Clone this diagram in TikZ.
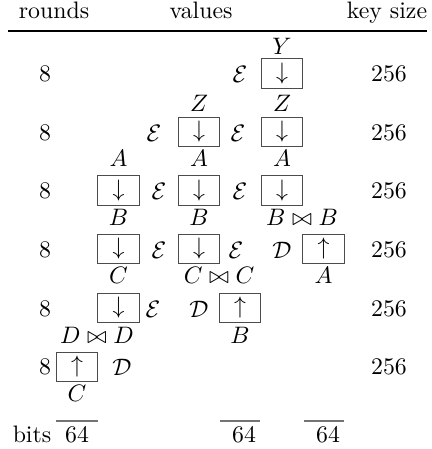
\documentclass[tikz,border=0pt]{standalone}
\usepackage{amssymb}
\begin{document}
\begin{tikzpicture}[
    x=0.42pt, y=-0.42pt,
    font=\normalsize,
    blk/.style={draw=black!70, minimum width=17.6pt, minimum height=12.2pt, inner sep=0pt},
    lbl/.style={anchor=base, inner sep=0pt},
    op/.style={inner sep=0pt},
    bar/.style={draw=black!55, line width=0.6pt},
]
    \useasboundingbox (0,0) rectangle (431,449);

    % Header and rule
    \node[lbl] (hrounds) at (54, 19) {rounds};
    \node[lbl] (hvalues) at (201, 19) {values};
    \node[lbl] (hkey) at (387, 19) {key size};
    \draw[line width=0.8pt] (8, 31) -- (427, 31);

    % Round counts and key sizes
    \foreach \y [count=\i] in {74, 133, 191, 250, 309, 367} {
        \node[op] (rnd\i) at (45, \y) {8};
        \node[op] (key\i) at (389, \y) {256};
    }

    % Row 1
    \node[blk] (d11) at (282, 73.5) {$\downarrow$};
    \node[op] (e11) at (240, 74) {$\mathcal{E}$};
    \node[lbl] (y11) at (282, 55) {$Y$};

    % Row 2
    \node[blk] (d21) at (199, 132) {$\downarrow$};
    \node[blk] (d22) at (282, 132) {$\downarrow$};
    \node[op] (e21) at (154, 133) {$\mathcal{E}$};
    \node[op] (e22) at (238, 133) {$\mathcal{E}$};
    \node[lbl] (z21) at (199, 112) {$Z$};
    \node[lbl] (z22) at (282, 112) {$Z$};
    \node[lbl] (a31) at (118.5, 167) {$A$};
    \node[lbl] (a21) at (199, 167) {$A$};
    \node[lbl] (a22) at (282, 167) {$A$};

    % Row 3
    \node[blk] (d31) at (118.5, 190.5) {$\downarrow$};
    \node[blk] (d32) at (199, 190.5) {$\downarrow$};
    \node[blk] (d33) at (282, 190.5) {$\downarrow$};
    \node[op] (e31) at (159, 191) {$\mathcal{E}$};
    \node[op] (e32) at (240, 191) {$\mathcal{E}$};
    \node[lbl] (b31) at (118.5, 226) {$B$};
    \node[lbl] (b32) at (199, 226) {$B$};
    \node[lbl] (b33) at (302, 226) {$B \bowtie B$};

    % Row 4
    \node[blk] (d41) at (118.5, 249) {$\downarrow$};
    \node[blk] (d42) at (199, 249) {$\downarrow$};
    \node[blk] (u43) at (323.5, 249) {$\uparrow$};
    \node[op] (e41) at (159, 250) {$\mathcal{E}$};
    \node[op] (e42) at (236, 250) {$\mathcal{E}$};
    \node[op] (dd43) at (282, 250) {$\mathcal{D}$};
    \node[lbl] (c41) at (118.5, 284) {$C$};
    \node[lbl] (c42) at (219, 284) {$C \bowtie C$};
    \node[lbl] (a43) at (323.5, 284) {$A$};

    % Row 5
    \node[blk] (d51) at (118.5, 308) {$\downarrow$};
    \node[blk] (u52) at (240, 308) {$\uparrow$};
    \node[op] (e51) at (153, 309) {$\mathcal{E}$};
    \node[op] (dd52) at (199, 309) {$\mathcal{D}$};
    \node[lbl] (dx51) at (97, 343) {$D \bowtie D$};
    \node[lbl] (b52) at (240, 343) {$B$};

    % Row 6
    \node[blk] (u61) at (77, 366.5) {$\uparrow$};
    \node[op] (dd61) at (122, 367) {$\mathcal{D}$};
    \node[lbl] (c61) at (77, 401) {$C$};

    % Block widths
    \node[lbl] (bits) at (32, 442) {bits};
    \node[lbl] (w1) at (77, 442) {64};
    \node[lbl] (w2) at (244, 442) {64};
    \node[lbl] (w3) at (328, 442) {64};
    \draw[bar] (56, 421) -- (98, 421);
    \draw[bar] (220, 421) -- (260, 421);
    \draw[bar] (304, 421) -- (344, 421);
\end{tikzpicture}
\end{document}
